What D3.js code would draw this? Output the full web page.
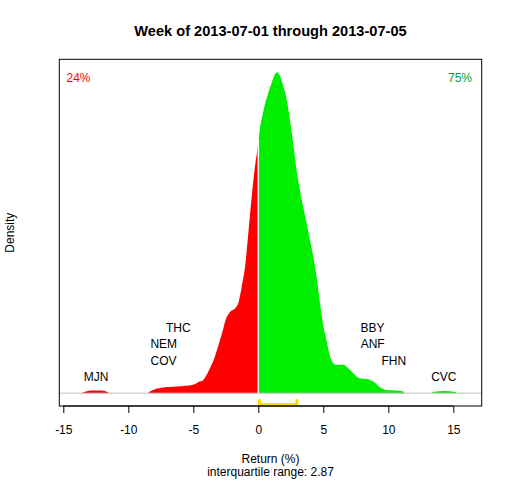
<!DOCTYPE html>
<html>
<head>
<meta charset="utf-8">
<script src="https://cdn.jsdelivr.net/npm/d3@7"></script>
<style>
  body { margin: 0; background: #fff; }
  svg { font-family: "Liberation Sans", Arial, sans-serif; }
</style>
</head>
<body>
<svg id="chart"></svg>
<script>
// density of weekly returns
const returnsNeg = [-13.6, -13.33, -12.9, -12.5, -12.1, -11.66, -11.4, -8.5, -8.33, -7.95, -7.3, -6.28, -5.6, -5.0, -4.5, -4.23, -3.72, -3.33, -2.95, -2.69, -2.56, -2.18, -1.79, -1.54, -1.28, -1.02, -0.77, -0.51, -0.25, -0.05, 0];
const densityNeg = [0, 0.0006, 0.0011, 0.0011, 0.0011, 0.0006, 0, 0, 0.0007, 0.0016, 0.0023, 0.0027, 0.0030, 0.0034, 0.0047, 0.0054, 0.0101, 0.0150, 0.0215, 0.0263, 0.0290, 0.0330, 0.0344, 0.0365, 0.0432, 0.0513, 0.0648, 0.0796, 0.0923, 0.0999, 0.1021];
const returnsPos = [0, 0.05, 0.13, 0.26, 0.52, 0.77, 1.03, 1.28, 1.46, 1.67, 1.92, 2.18, 2.44, 2.69, 2.95, 3.21, 3.46, 3.72, 3.98, 4.23, 4.49, 4.75, 5.0, 5.26, 5.52, 5.77, 6.03, 6.3, 6.54, 6.92, 7.31, 7.69, 8.1, 8.46, 8.85, 9.36, 9.87, 10.6, 11.1, 11.3, 13.3, 13.5, 14.3, 15.1, 15.3];
const densityPos = [0.1021, 0.1041, 0.1080, 0.1114, 0.1175, 0.1221, 0.1262, 0.1296, 0.1305, 0.1289, 0.1249, 0.1195, 0.1107, 0.1013, 0.0904, 0.0823, 0.0756, 0.0689, 0.0621, 0.0555, 0.0470, 0.0365, 0.0275, 0.0211, 0.0150, 0.0122, 0.0115, 0.0115, 0.0117, 0.0101, 0.0081, 0.0063, 0.0059, 0.0057, 0.0047, 0.0024, 0.0013, 0.0011, 0.0008, 0, 0, 0.0006, 0.0009, 0.0006, 0];

// outlier tickers: return and stacking level
const tickers = ['MJN', 'COV', 'NEM', 'THC', 'BBY', 'ANF', 'FHN', 'CVC'];
const tickerReturns = [-12.48, -7.29, -7.27, -6.15, 8.78, 8.8, 10.42, 14.27];
const tickerLevels = [1, 2, 3, 4, 4, 3, 2, 1];

const xTicks = [-15, -10, -5, 0, 5, 10, 15];
const quartiles = [0.1, 2.97];
const pctDown = '24%';
const pctUp = '75%';
const title = 'Week of 2013-07-01 through 2013-07-05';

function drawChart() {
  const width = 512, height = 480;
  const left = 59.3, right = 481.7, top = 59.3, bottom = 406;

  const svg = d3.select('#chart')
    .attr('width', width)
    .attr('height', height);

  const x = d3.scaleLinear()
    .domain([-15, 15])
    .range([258.3 - 15 * 13, 258.3 + 15 * 13]);

  const peak = d3.max(densityPos);
  const y = d3.scaleLinear()
    .domain([-0.04 * peak, 1.04 * peak])
    .range([bottom, top]);

  const levelStep = 0.00667;

  const area = d3.area()
    .x(d => x(d[0]))
    .y0(y(0))
    .y1(d => y(d[1]))
    .curve(d3.curveMonotoneX);

  const neg = returnsNeg.map((r, i) => [r, densityNeg[i]]);
  const pos = returnsPos.map((r, i) => [r, densityPos[i]]);

  svg.append('path').datum(neg).attr('d', area).attr('fill', '#ff0000');
  svg.append('path').datum(pos).attr('d', area).attr('fill', '#00ee00');

  // white split at zero
  svg.append('line')
    .attr('x1', x(0)).attr('x2', x(0))
    .attr('y1', y(0)).attr('y2', y(densityNeg[densityNeg.length - 1]) - 2)
    .attr('stroke', '#fff').attr('stroke-width', 1.5);

  // baseline
  svg.append('line')
    .attr('x1', left).attr('x2', right)
    .attr('y1', y(0)).attr('y2', y(0))
    .attr('stroke', '#bebebe').attr('stroke-width', 1);

  // interquartile bracket
  const qy = y(0) + 11.5;
  svg.append('path')
    .attr('d', `M${x(quartiles[0])},${qy - 5.5}V${qy}H${x(quartiles[1])}V${qy - 5.5}`)
    .attr('fill', 'none')
    .attr('stroke', '#ffd700')
    .attr('stroke-width', 3);

  // box
  svg.append('rect')
    .attr('x', left).attr('y', top)
    .attr('width', right - left).attr('height', bottom - top)
    .attr('fill', 'none').attr('stroke', '#000').attr('stroke-width', 1);

  // x axis
  const axis = d3.axisBottom(x).tickValues(xTicks).tickSize(7).tickPadding(12);
  const g = svg.append('g')
    .attr('transform', `translate(0,${bottom})`)
    .call(axis);
  g.select('.domain').attr('d', `M${x(-15)},0H${x(15)}`).attr('stroke', '#000');
  g.selectAll('.tick line').attr('stroke', '#000');
  g.selectAll('.tick text')
    .attr('fill', '#000')
    .style('font-size', '12px')
    .style('font-family', '"Liberation Sans", Arial, sans-serif')
    .text(d => d < 0 ? '-' + Math.abs(d) : d);

  // ticker labels
  svg.selectAll('text.ticker')
    .data(tickers)
    .enter()
    .append('text')
    .attr('class', 'ticker')
    .attr('x', (d, i) => x(tickerReturns[i]))
    .attr('y', (d, i) => y(tickerLevels[i] * levelStep) + 4.5)
    .attr('text-anchor', 'middle')
    .style('font-size', '12px')
    .attr('fill', '#000')
    .text(d => d);

  // percentages
  svg.append('text')
    .attr('x', 66.5).attr('y', 82)
    .style('font-size', '12px')
    .attr('fill', '#ff0000')
    .text(pctDown);
  svg.append('text')
    .attr('x', 472).attr('y', 82)
    .attr('text-anchor', 'end')
    .style('font-size', '12px')
    .attr('fill', '#00a040')
    .text(pctUp);

  // title and axis titles
  svg.append('text')
    .attr('x', (left + right) / 2).attr('y', 36)
    .attr('text-anchor', 'middle')
    .style('font-size', '14.6px')
    .style('font-weight', 'bold')
    .text(title);

  svg.append('text')
    .attr('x', (left + right) / 2).attr('y', 462.5)
    .attr('text-anchor', 'middle')
    .style('font-size', '12px')
    .text('Return (%)');

  svg.append('text')
    .attr('x', (left + right) / 2).attr('y', 475.5)
    .attr('text-anchor', 'middle')
    .style('font-size', '12px')
    .text('interquartile range: ' + d3.format('.2f')(quartiles[1] - quartiles[0]));

  svg.append('text')
    .attr('transform', `translate(14,${(top + bottom) / 2}) rotate(-90)`)
    .attr('text-anchor', 'middle')
    .style('font-size', '12px')
    .text('Density');
}

drawChart();
</script>
</body>
</html>
